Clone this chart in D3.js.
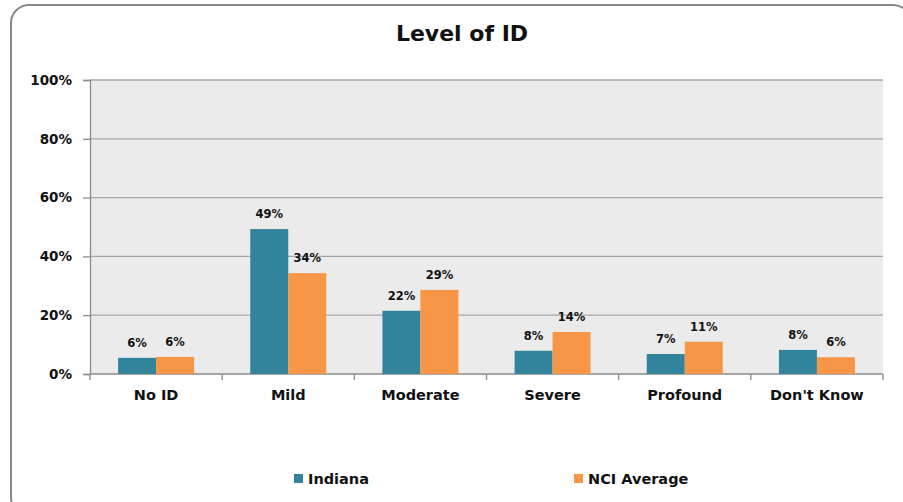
<!DOCTYPE html>
<html>
<head>
<meta charset="utf-8">
<script src="https://cdn.jsdelivr.net/npm/d3@7"></script>
<style>
  body { margin:0; background:#fff; }
  svg { display:block; font-family:"DejaVu Sans", Verdana, sans-serif; }
</style>
</head>
<body>
<svg id="chart" width="903" height="502"></svg>
<script>
var title = "Level of ID";
var categories = ["No ID", "Mild", "Moderate", "Severe", "Profound", "Don't Know"];
var seriesNames = ["Indiana", "NCI Average"];
var indiana = [5.5, 49.3, 21.5, 7.9, 6.8, 8.2];
var nciAverage = [5.8, 34.3, 28.6, 14.3, 11.0, 5.7];
var indianaLabels = ["6%", "49%", "22%", "8%", "7%", "8%"];
var nciLabels = ["6%", "34%", "29%", "14%", "11%", "6%"];
var yTicks = [0, 20, 40, 60, 80, 100];

var colors = ["#31849b", "#f79646"];
var plotLeft = 90, plotRight = 883, plotTop = 80, plotBottom = 374;

var svg = d3.select("#chart");

// outer frame
svg.append("rect")
  .attr("x", 11).attr("y", 5)
  .attr("width", 900).attr("height", 510)
  .attr("rx", 18).attr("ry", 18)
  .attr("fill", "#fff").attr("stroke", "#888").attr("stroke-width", 2);

svg.append("text")
  .attr("x", 462).attr("y", 41)
  .attr("text-anchor", "middle")
  .attr("font-size", 22).attr("font-weight", "bold").attr("fill", "#111")
  .text(title);

var x = d3.scaleBand().domain(categories).range([plotLeft, plotRight]);
var y = d3.scaleLinear().domain([0, 100]).range([plotBottom, plotTop]);

svg.append("rect")
  .attr("x", plotLeft).attr("y", plotTop)
  .attr("width", plotRight - plotLeft).attr("height", plotBottom - plotTop)
  .attr("fill", "#ebebeb");

// grid
svg.append("g").selectAll("line").data(yTicks.filter(function(d) {return d > 0;}))
  .enter().append("line")
  .attr("x1", plotLeft).attr("x2", plotRight)
  .attr("y1", function(d) {return y(d);}).attr("y2", function(d) {return y(d);})
  .attr("stroke", "#a6a6a6").attr("stroke-width", 1.3);

// y axis
var yAxis = d3.axisLeft(y).tickValues(yTicks).tickSize(7).tickPadding(11)
  .tickFormat(function(d) {return d + "%";});
var gy = svg.append("g").attr("transform", "translate(" + plotLeft + ",0)").call(yAxis);
gy.selectAll("path, line").attr("stroke", "#8c8c8c").attr("stroke-width", 1.3);
gy.selectAll("text").attr("font-size", 13.5).attr("font-weight", "bold").attr("fill", "#111")
  .attr("font-family", "DejaVu Sans, sans-serif");

// x axis
var gx = svg.append("g").attr("transform", "translate(0," + plotBottom + ")");
gx.append("line").attr("x1", plotLeft).attr("x2", plotRight).attr("stroke", "#8c8c8c").attr("stroke-width", 1.3);
gx.selectAll(".tk").data(d3.range(categories.length + 1)).enter().append("line")
  .attr("x1", function(i) {return plotLeft + i * x.bandwidth();})
  .attr("x2", function(i) {return plotLeft + i * x.bandwidth();})
  .attr("y1", 0).attr("y2", 6)
  .attr("stroke", "#8c8c8c").attr("stroke-width", 1.3);
gx.selectAll("text").data(categories).enter().append("text")
  .attr("x", function(d) {return x(d) + x.bandwidth() / 2;})
  .attr("y", 26)
  .attr("text-anchor", "middle")
  .attr("font-size", 14.5).attr("font-weight", "bold").attr("fill", "#111")
  .text(function(d) {return d;});

// bars
var barW = 38;
var series = [indiana, nciAverage];
var labels = [indianaLabels, nciLabels];
series.forEach(function(vals, s) {
  var g = svg.append("g");
  g.selectAll("rect").data(vals).enter().append("rect")
    .attr("x", function(d, i) {return x(categories[i]) + x.bandwidth() / 2 - barW + s * barW;})
    .attr("y", function(d) {return y(d);})
    .attr("width", barW)
    .attr("height", function(d) {return y(0) - y(d);})
    .attr("fill", colors[s]);
  g.selectAll("text").data(vals).enter().append("text")
    .attr("x", function(d, i) {return x(categories[i]) + x.bandwidth() / 2 - barW / 2 + s * barW;})
    .attr("y", function(d) {return y(d) - 11;})
    .attr("text-anchor", "middle")
    .attr("font-size", 11.5).attr("font-weight", "bold").attr("fill", "#111")
    .text(function(d, i) {return labels[s][i];});
});

// legend
var legendX = [294, 574];
seriesNames.forEach(function(name, s) {
  svg.append("rect")
    .attr("x", legendX[s]).attr("y", 474)
    .attr("width", 9).attr("height", 9)
    .attr("fill", colors[s]);
  svg.append("text")
    .attr("x", legendX[s] + 14).attr("y", 484)
    .attr("font-size", 14.5).attr("font-weight", "bold").attr("fill", "#111")
    .text(name);
});
</script>
</body>
</html>
